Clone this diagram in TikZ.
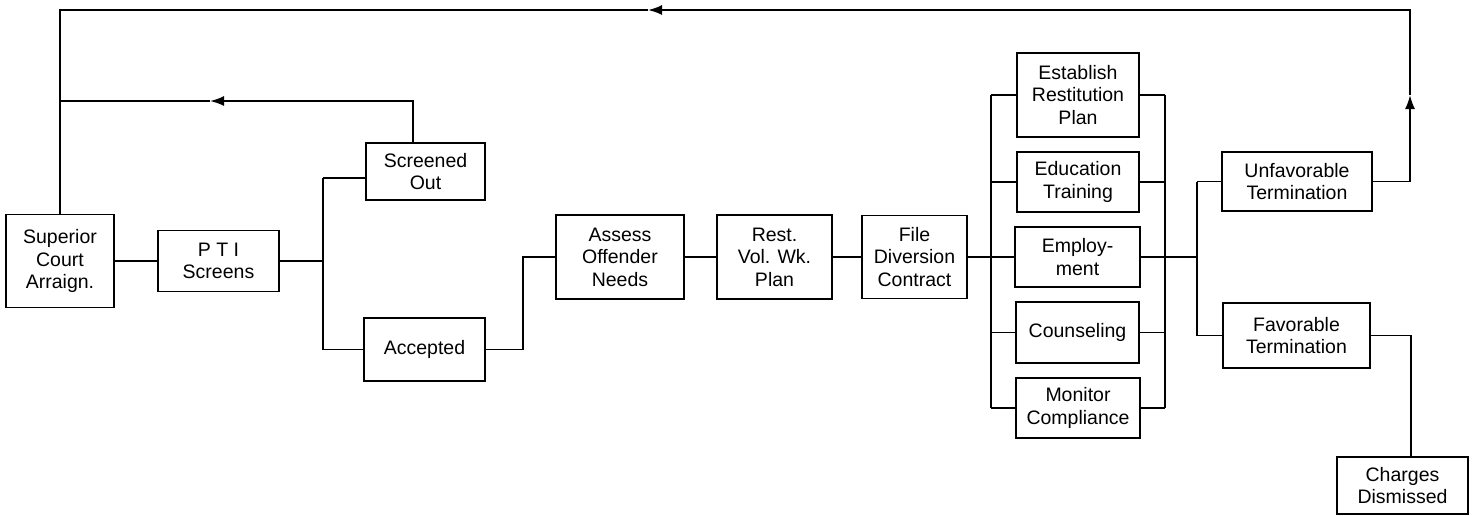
\documentclass[tikz,border=0pt]{standalone}
\usepackage{fontspec}
\setmainfont{Liberation Sans}
\usetikzlibrary{arrows.meta}
\begin{document}
\begin{tikzpicture}[x=1pt,y=-1pt,
  box/.style={draw, line width=1.8pt, align=center, inner sep=0pt, font=\fontsize{19.5}{22.5}\selectfont},
  conn/.style={line width=1.8pt},
  tip/.style={-{Latex[length=14pt,width=10pt]}}]
\useasboundingbox (0,0) rectangle (1475,515);
% boxes
\node[box, minimum width=108pt, minimum height=93pt] (sup) at (60,261) {Superior\\Court\\Arraign.};
\node[box, minimum width=121pt, minimum height=61pt] (pti) at (218.5,261) {P T I\\Screens};
\node[box, minimum width=119pt, minimum height=57pt] (scr) at (425.5,171.5) {Screened\\Out};
\node[box, minimum width=121pt, minimum height=63pt] (acc) at (424.5,349.5) {Accepted};
\node[box, minimum width=128pt, minimum height=84pt] (ass) at (620,257) {Assess\\Offender\\Needs};
\node[box, minimum width=115pt, minimum height=84pt] (rest) at (774.5,257) {Rest.\\Vol. Wk.\\Plan};
\node[box, minimum width=105pt, minimum height=83pt] (file) at (914.5,257) {File\\Diversion\\Contract};
\node[box, minimum width=122pt, minimum height=84pt] (est) at (1078,95) {Establish\\Restitution\\Plan};
\node[box, minimum width=122pt, minimum height=60pt] (edu) at (1078,182) {Education\\Training};
\node[box, minimum width=125pt, minimum height=60pt] (emp) at (1077.5,257) {Employ-\\ment};
\node[box, minimum width=123pt, minimum height=61pt] (cou) at (1077.5,332.5) {Counseling};
\node[box, minimum width=124pt, minimum height=60pt] (mon) at (1078,408) {Monitor\\Compliance};
\node[box, minimum width=150pt, minimum height=59pt] (unf) at (1297,181.5) {Unfavorable\\Termination};
\node[box, minimum width=147pt, minimum height=65pt] (fav) at (1296.5,335.5) {Favorable\\Termination};
\node[box, minimum width=131pt, minimum height=57pt] (chg) at (1402.5,485.5) {Charges\\Dismissed};
% junction coordinates
\coordinate (j1) at (323,261);
\coordinate (j1t) at (323,178);
\coordinate (j1b) at (323,349.5);
\coordinate (j2) at (523,349.5);
\coordinate (j3) at (991,257);
\coordinate (j4) at (1165,257);
\coordinate (j5) at (1197,257);
\coordinate (ua) at (1410,95);
\coordinate (ta) at (648,10);
\coordinate (tl) at (60,10);
\coordinate (mr) at (413,101);
\coordinate (ma) at (210,101);
\coordinate (fc) at (1411,335.5);
% connectors
\draw[conn] (sup.east) -- (pti.west);
\draw[conn] (pti.east) -- (j1);
\draw[conn] (j1t) -- (j1b);
\draw[conn] (j1t) -- (j1t -| scr.west);
\draw[conn] (j1b) -- (acc.west);
\draw[conn] (acc.east) -- (j2) |- (ass.west);
\draw[conn] (ass.east) -- (rest.west);
\draw[conn] (rest.east) -- (file.west);
\draw[conn] (file.east) -- (j3);
\draw[conn] (est.west -| j3) -- (mon.west -| j3);
\draw[conn] (est.east -| j4) -- (mon.east -| j4);
\foreach \n in {est,edu,emp,cou,mon}{
  \draw[conn] (\n.west -| j3) -- (\n.west);
  \draw[conn] (\n.east) -- (\n.east -| j4);
}
\draw[conn] (j4) -- (j5);
\draw[conn] (unf.west -| j5) -- (fav.west -| j5);
\draw[conn] (unf.west -| j5) -- (unf.west);
\draw[conn] (fav.west -| j5) -- (fav.west);
% return loops
\draw[conn,tip] (unf.east) -| (ua);
\draw[conn,tip] (ua) |- (ta);
\draw[conn] (ta) -- (tl) -- (sup.north);
\draw[conn,tip] (scr.north -| mr) -- (mr) -- (ma);
\draw[conn] (ma) -- (ma -| tl);
% favorable to charges
\draw[conn] (fav.east) -- (fc) -- (fc |- chg.north);
\end{tikzpicture}
\end{document}
